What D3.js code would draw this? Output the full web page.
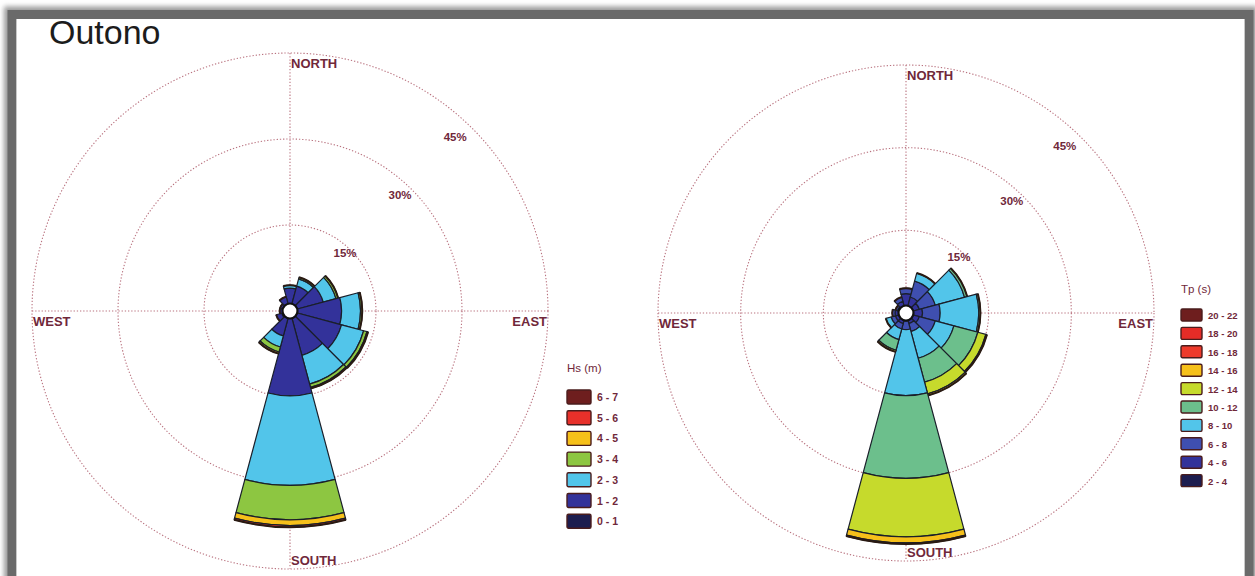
<!DOCTYPE html>
<html>
<head>
<meta charset="utf-8">
<script src="https://cdn.jsdelivr.net/npm/d3@7"></script>
<style>
  html, body { margin: 0; padding: 0; background: #ffffff; }
  svg { display: block; }
  text { font-family: "Liberation Sans", Arial, sans-serif; }
</style>
</head>
<body>
<svg id="chart" width="1255" height="576"></svg>
<script>
// Wind-direction sectors (bearing of each petal centre, degrees clockwise from north)
const directions = [0, 30, 60, 90, 120, 150, 180, 210, 240, 270, 300, 330];

// Ring labels and compass labels
const ringTicks = [15, 30, 45];
const compass = ["NORTH", "EAST", "SOUTH", "WEST"];

// Significant wave height classes, Hs (m) — frequency (%) per direction
const hsClasses = ["0 - 1", "1 - 2", "2 - 3", "3 - 4", "4 - 5", "5 - 6", "6 - 7"];
const hsColors  = ["#1d1d4f", "#33329a", "#52c5ea", "#8dc641", "#f6c01a", "#e8302a", "#6e1e1e"];
const hs_0_1 = [0.5, 0.5, 0.5, 0.5, 0.5, 0.5, 0.5, 0.5, 1.5, 1.0, 0.8, 0.8];
const hs_1_2 = [3.5, 4.0, 5.5, 8.5, 8.8, 7.5, 14.3, 4.0, 1.0, 0.8, 1.0, 1.8];
const hs_2_3 = [0.5, 1.3, 2.3, 3.3, 4.0, 5.2, 15.6, 2.0, 0, 0, 0, 0];
const hs_3_4 = [0, 0.3, 0.4, 0.3, 0.6, 0.6, 6.0, 0.9, 0, 0, 0, 0];
const hs_4_5 = [0, 0, 0, 0, 0.2, 0.2, 1.0, 0.3, 0, 0, 0, 0];
const hs_5_6 = [0, 0, 0, 0, 0, 0, 0.3, 0, 0, 0, 0, 0];
const hs_6_7 = [0, 0, 0, 0, 0, 0, 0, 0, 0, 0, 0, 0];

// Peak period classes, Tp (s) — frequency (%) per direction
const tpClasses = ["2 - 4", "4 - 6", "6 - 8", "8 - 10", "10 - 12", "12 - 14", "14 - 16", "16 - 18", "18 - 20", "20 - 22"];
const tpColors  = ["#1d1d4f", "#33329a", "#3f4fb0", "#52c5ea", "#6cbf8c", "#c6da2c", "#f6c01a", "#ee3a2b", "#e42c27", "#6e1e1e"];
const tp_2_4   = [1.0, 0.5, 0.5, 0.5, 0.5, 0.5, 0.5, 0.5, 0.8, 1.0, 0.8, 1.0];
const tp_4_6   = [2.5, 2.5, 2.0, 2.5, 2.0, 1.5, 1.0, 1.5, 1.2, 1.0, 0.8, 1.2];
const tp_6_8   = [1.0, 3.0, 3.0, 3.2, 3.0, 1.5, 1.5, 1.0, 0.8, 0.5, 0.4, 0.8];
const tp_8_10  = [0, 1.5, 5.5, 7.0, 3.5, 5.0, 12.0, 2.0, 1.0, 0, 0, 0];
const tp_10_12 = [0, 0, 0.5, 0.3, 4.5, 4.5, 15.0, 2.0, 0, 0, 0, 0];
const tp_12_14 = [0, 0, 0, 0, 1.5, 2.2, 10.6, 0.3, 0, 0, 0, 0];
const tp_14_16 = [0, 0, 0, 0, 0.2, 0.3, 1.1, 0, 0, 0, 0, 0];
const tp_16_18 = [0, 0, 0, 0, 0, 0, 0.2, 0, 0, 0, 0, 0];
const tp_18_20 = [0, 0, 0, 0, 0, 0, 0, 0, 0, 0, 0, 0];
const tp_20_22 = [0, 0, 0, 0, 0, 0, 0, 0, 0, 0, 0, 0];

const hsSeries = [hs_0_1, hs_1_2, hs_2_3, hs_3_4, hs_4_5, hs_5_6, hs_6_7];
const tpSeries = [tp_2_4, tp_4_6, tp_6_8, tp_8_10, tp_10_12, tp_12_14, tp_14_16, tp_16_18, tp_18_20, tp_20_22];

const svg = d3.select("#chart");
const W = 1255, H = 576;

// ---- frame with soft shadow ----
const defs = svg.append("defs");
const shadow = defs.append("filter").attr("id", "frameShadow")
  .attr("x", "-5%").attr("y", "-5%").attr("width", "110%").attr("height", "110%");
shadow.append("feGaussianBlur").attr("stdDeviation", 2.5);

svg.append("rect").attr("x", 0).attr("y", 0).attr("width", W).attr("height", H).attr("fill", "#ffffff");
svg.append("rect")
  .attr("x", 11).attr("y", 13.5).attr("width", 1239).attr("height", 640)
  .attr("fill", "none").attr("stroke", "#9a9a9a").attr("stroke-width", 14)
  .attr("filter", "url(#frameShadow)");
svg.append("rect")
  .attr("x", 12).attr("y", 14.5).attr("width", 1237).attr("height", 640)
  .attr("fill", "none").attr("stroke", "#6a6a6a").attr("stroke-width", 9);
svg.append("rect")
  .attr("x", 16.5).attr("y", 19).attr("width", 1228).attr("height", 640)
  .attr("fill", "#ffffff");

// ---- title ----
svg.append("text")
  .attr("x", 49).attr("y", 44)
  .attr("font-size", 34).attr("fill", "#1c1c1c")
  .text("Outono");

const gridColor = "#b9727f";
const labelColor = "#70283a";

function drawRose(cx, cy, R, series, colors) {
  const g = svg.append("g").attr("transform", `translate(${cx},${cy})`);
  const r = d3.scaleLinear().domain([0, 45]).range([0, R]);

  // rings
  g.selectAll("circle.ring").data(ringTicks).join("circle")
    .attr("class", "ring")
    .attr("r", d => r(d))
    .attr("fill", "none")
    .attr("stroke", gridColor)
    .attr("stroke-width", 1.1)
    .attr("stroke-dasharray", "1.3,1.9");

  // cross
  g.append("line").attr("x1", -R).attr("x2", R).attr("y1", 0).attr("y2", 0)
    .attr("stroke", gridColor).attr("stroke-width", 1.1).attr("stroke-dasharray", "1.3,1.9");
  g.append("line").attr("x1", 0).attr("x2", 0).attr("y1", -R).attr("y2", R)
    .attr("stroke", gridColor).attr("stroke-width", 1.1).attr("stroke-dasharray", "1.3,1.9");

  // ring labels along the NE diagonal
  const a = 43.5 * Math.PI / 180;
  g.selectAll("text.tick").data(ringTicks).join("text")
    .attr("class", "tick")
    .attr("x", d => Math.sin(a) * (r(d) * 0.93))
    .attr("y", d => -Math.cos(a) * (r(d) * 0.93) + 4)
    .attr("text-anchor", "middle")
    .attr("font-size", 11.5).attr("font-weight", "bold")
    .attr("fill", labelColor)
    .text(d => d + "%");

  // compass labels
  const lab = (t, x, y, anchor) => g.append("text")
    .attr("x", x).attr("y", y).attr("text-anchor", anchor)
    .attr("font-size", 13).attr("font-weight", "bold")
    .attr("fill", labelColor)
    .text(t);
  lab(compass[0], 1, -R + 15, "start");
  lab(compass[1], R - 1, 15, "end");
  lab(compass[2], 1, R - 4, "start");
  lab(compass[3], 1 - R, 15, "start");

  // stacked petals
  const half = 15;
  const arc = d3.arc();
  directions.forEach((dir, i) => {
    let cum = 0;
    series.forEach((vals, k) => {
      const v = vals[i];
      if (v <= 0) return;
      const inner = cum, outer = cum + v;
      cum = outer;
      g.append("path")
        .attr("d", arc({
          innerRadius: r(inner),
          outerRadius: r(outer),
          startAngle: (dir - half) * Math.PI / 180,
          endAngle: (dir + half) * Math.PI / 180
        }))
        .attr("fill", colors[k])
        .attr("stroke", "#1a1f2a")
        .attr("stroke-width", 1.2)
        .attr("stroke-linejoin", "round");
    });
    // darker rim on the petal tip
    if (cum > 0) {
      const s = (dir - half) * Math.PI / 180, e = (dir + half) * Math.PI / 180;
      const rim = d3.path();
      rim.arc(0, 0, r(cum), s - Math.PI / 2, e - Math.PI / 2);
      g.append("path").attr("d", rim.toString())
        .attr("fill", "none").attr("stroke", "#2a1a12").attr("stroke-width", 2);
    }
  });

  // calm circle
  g.append("circle").attr("r", 7.5)
    .attr("fill", "#ffffff").attr("stroke", "#111111").attr("stroke-width", 2.2);
}

function drawLegend(x, y0, step, bw, bh, title, classes, colors, fs) {
  const g = svg.append("g");
  g.append("text").attr("x", x).attr("y", y0 - step * 1.1 - 2)
    .attr("font-size", 11.5).attr("fill", labelColor).text(title);
  const items = classes.map((c, i) => ({ c, col: colors[i] })).reverse();
  const rows = g.selectAll("g.row").data(items).join("g")
    .attr("class", "row")
    .attr("transform", (d, i) => `translate(${x},${y0 + i * step})`);
  rows.append("rect")
    .attr("x", 0).attr("y", -bh / 2).attr("width", bw).attr("height", bh)
    .attr("rx", 1.5)
    .attr("fill", d => d.col)
    .attr("stroke", "#4a1c1c").attr("stroke-width", 1.4);
  rows.append("text")
    .attr("x", bw + 6).attr("y", 4)
    .attr("font-size", fs).attr("font-weight", "bold")
    .attr("fill", labelColor)
    .text(d => d.c);
}

drawRose(290, 311, 258, hsSeries, hsColors);
drawRose(906, 313, 248, tpSeries, tpColors);

drawLegend(567, 397, 20.7, 24, 14, "Hs (m)", hsClasses, hsColors, 10.5);
drawLegend(1181, 315, 18.4, 21, 12, "Tp (s)", tpClasses, tpColors, 9.5);
</script>
</body>
</html>
